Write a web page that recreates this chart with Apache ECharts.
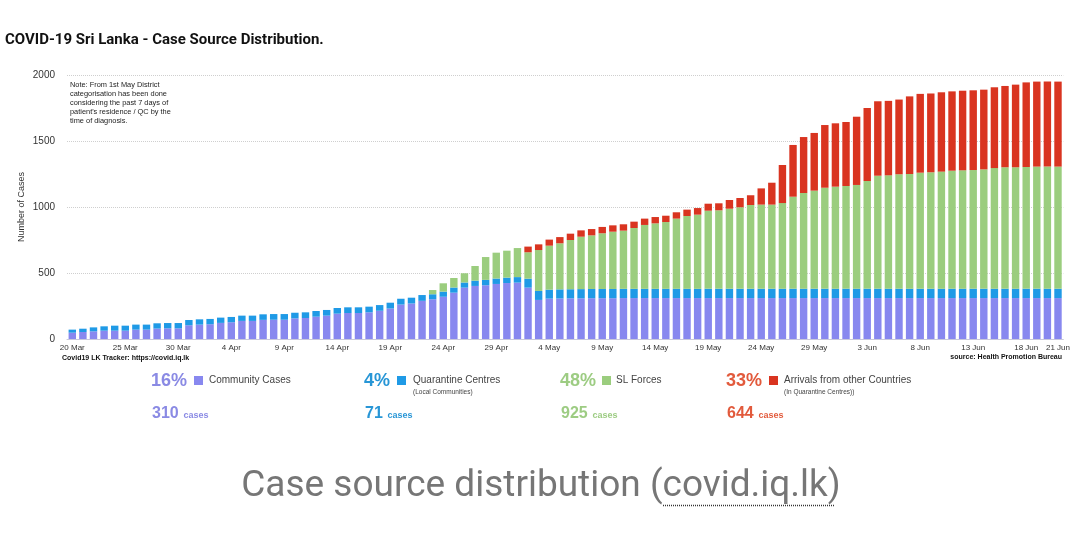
<!DOCTYPE html>
<html>
<head>
<meta charset="utf-8">
<script src="https://cdn.jsdelivr.net/npm/echarts@6/dist/echarts.min.js"></script>
<style>html,body{margin:0;padding:0;background:#fff}#c{width:1073px;height:539px}</style>
</head>
<body>
<div id="c"></div>
<script>
const categories = [
 '20 Mar','21 Mar','22 Mar','23 Mar','24 Mar','25 Mar','26 Mar','27 Mar','28 Mar','29 Mar','30 Mar','31 Mar',
 '1 Apr','2 Apr','3 Apr','4 Apr','5 Apr','6 Apr','7 Apr','8 Apr','9 Apr','10 Apr','11 Apr','12 Apr','13 Apr','14 Apr','15 Apr','16 Apr','17 Apr','18 Apr','19 Apr','20 Apr','21 Apr','22 Apr','23 Apr','24 Apr','25 Apr','26 Apr','27 Apr','28 Apr','29 Apr','30 Apr',
 '1 May','2 May','3 May','4 May','5 May','6 May','7 May','8 May','9 May','10 May','11 May','12 May','13 May','14 May','15 May','16 May','17 May','18 May','19 May','20 May','21 May','22 May','23 May','24 May','25 May','26 May','27 May','28 May','29 May','30 May','31 May',
 '1 Jun','2 Jun','3 Jun','4 Jun','5 Jun','6 Jun','7 Jun','8 Jun','9 Jun','10 Jun','11 Jun','12 Jun','13 Jun','14 Jun','15 Jun','16 Jun','17 Jun','18 Jun','19 Jun','20 Jun','21 Jun'
];
const community = [
 48,53,58,63,63,63,71,71,79,81,81,104,109,112,122,127,137,137,145,146,146,156,159,169,177,192,197,197,202,214,231,261,269,289,
 301,320,351,389,402,407,417,424,427,389,
 296,306,307,308,308,309,309,309,
 310,310,310,310,310,310,310,310,310,310,310,310,310,310,310,310,310,310,310,310,310,
 310,310,310,310,310,310,310,310,310,310,310,310,310,310,310,310,310,310,310,310,310
];
const quarantine = [
 23,25,30,33,38,38,38,38,40,40,40,40,40,40,40,40,40,40,42,43,43,43,43,43,43,43,43,43,43,43,44,44,44,44,
 38,39,39,39,40,41,41,41,42,68,
 68,68,69,69,70,70,70,70,70,70,70,70,70,70,70,70,
 71,71,71,71,71,71,71,71,71,71,71,71,71,71,71,71,71,
 71,71,71,71,71,71,71,71,71,71,71,71,71,71,71,71,71
];
const slForces = [
 0,0,0,0,0,0,0,0,0,0,0,0,0,0,0,0,0,0,0,0,0,0,0,0,0,0,0,0,0,0,0,0,0,0,
 32,63,72,70,111,173,196,204,220,200,
 310,333,349,373,397,406,422,434,441,461,484,496,506,532,552,562,591,594,606,617,634,637,637,649,697,
 725,743,765,773,778,786,816,856,859,867,869,879,882,887,894,897,899,904,914,920,920,922,925,925,925
];
const arrivals = [
 0,0,0,0,0,0,0,0,0,0,0,0,0,0,0,0,0,0,0,0,0,0,0,0,0,0,0,0,0,0,0,0,0,0,0,0,0,0,0,0,0,0,0,
 43,
 43,46,47,48,48,48,48,48,48,48,48,48,48,48,48,50,53,53,66,70,
 74,123,166,288,392,424,437,475,480,485,517,553,564,564,566,588,597,597,601,601,
 603,604,604,612,616,626,641,644,644,644
];
const seriesNames = ['Community Cases','Quarantine Centres','SL Forces','Arrivals from other Countries'];
const seriesSubs = ['','(Local Communities)','','(In Quarantine Centres))'];
const percents = ['16%','4%','48%','33%'];
const colors = ['#8888ef','#1f9ae6','#9bcd7e','#d93420'];
const percentColors = ['#8a8ae4','#2896d6','#9dcc83','#e25a3c'];

const chart = echarts.init(document.getElementById('c'), null, {renderer:'canvas'});
const seriesData = [community, quarantine, slForces, arrivals];
const lastIdx = categories.length - 1;

const legendX = [
 {pct:151, sq:194, name:209},
 {pct:364, sq:397, name:413},
 {pct:560, sq:602, name:616},
 {pct:726, sq:769, name:784}
];
const graphics = [];
graphics.push({type:'text', left:5, top:33, style:{text:'COVID-19 Sri Lanka - Case Source Distribution.', font:'bold 15px Roboto', fill:'#111'}});
graphics.push({type:'text', left:70, top:80, style:{text:"Note: From 1st May District\ncategorisation has been done\nconsidering the past 7 days of\npatient's residence / QC by the\ntime of diagnosis.", font:'7.4px "Liberation Sans"', lineHeight:9, fill:'#222'}});
graphics.push({type:'text', x:22, y:207, rotation:Math.PI/2, style:{text:'Number of Cases', font:'9px "Liberation Sans"', fill:'#333', textAlign:'center', textVerticalAlign:'middle'}});
graphics.push({type:'text', left:62, top:355, style:{text:'Covid19 LK Tracker: https://covid.iq.lk', font:'bold 7px "Liberation Sans"', fill:'#111'}});
graphics.push({type:'text', right:11, top:354, style:{text:'source: Health Promotion Bureau', font:'bold 7px "Liberation Sans"', fill:'#111'}});
seriesNames.forEach((nm, i) => {
  const p = legendX[i];
  graphics.push({type:'text', x:p.pct, y:381, style:{text:percents[i], font:'bold 18px "Liberation Sans"', fill:percentColors[i], textVerticalAlign:'middle'}});
  graphics.push({type:'rect', shape:{x:p.sq, y:376, width:9, height:9}, style:{fill:colors[i]}});
  graphics.push({type:'text', x:p.name, y:380, style:{text:nm, font:'10px "Liberation Sans"', fill:'#444', textVerticalAlign:'middle'}});
  if (seriesSubs[i]) graphics.push({type:'text', x:p.name, y:392, style:{text:seriesSubs[i], font:'6.5px "Liberation Sans"', fill:'#444', textVerticalAlign:'middle'}});
  const val = String(seriesData[i][lastIdx]);
  graphics.push({type:'text', x:p.pct+1, y:414, style:{text:val, font:'bold 16px "Liberation Sans"', fill:percentColors[i], textVerticalAlign:'middle'}});
  const w = val.length * 9.2;
  graphics.push({type:'text', x:p.pct+1+w+4, y:416, style:{text:'cases', font:'bold 9px "Liberation Sans"', fill:percentColors[i], textVerticalAlign:'middle'}});
});
graphics.push({type:'text', x:541, y:487, style:{text:'Case source distribution (covid.iq.lk)', font:'37px Roboto', fill:'#767676', textAlign:'center', textVerticalAlign:'middle'}});
graphics.push({type:'line', shape:{x1:663, y1:505.5, x2:834, y2:505.5}, style:{stroke:'#333', lineWidth:1.5, lineDash:[1,1]}});

chart.setOption({
  animation:false,
  backgroundColor:'#fff',
  textStyle:{fontFamily:'"Liberation Sans"'},
  grid:{left:67, right:9, top:75, bottom:200, containLabel:false},
  xAxis:{
    type:'category', data:categories,
    axisTick:{show:false},
    axisLine:{lineStyle:{color:'#c9c9dc'}},
    axisLabel:{interval:(i)=> i%5===0 || i===lastIdx, fontSize:8, color:'#333', margin:5}
  },
  yAxis:{
    type:'value', min:0, max:2000, interval:500,
    axisLabel:{fontSize:10, color:'#333', margin:12, formatter:(v)=>String(v)},
    axisLine:{show:false}, axisTick:{show:false},
    splitLine:{lineStyle:{type:'dotted', color:'#cfcfcf'}}
  },
  series: seriesNames.map((nm, i) => ({
    name:nm, type:'bar', stack:'total', data:seriesData[i],
    barCategoryGap:'30%', itemStyle:{color:colors[i]}
  })),
  graphic: graphics
});
</script>
</body>
</html>
